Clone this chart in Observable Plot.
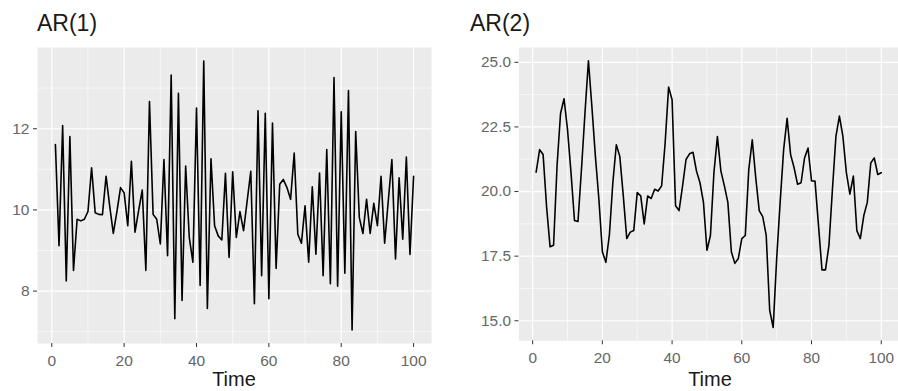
<!DOCTYPE html>
<html>
<head>
<meta charset="utf-8">
<script src="https://cdn.jsdelivr.net/npm/d3@7"></script>
<script src="https://cdn.jsdelivr.net/npm/@observablehq/plot@0.6"></script>
<style>
  html, body { margin: 0; padding: 0; background: white; }
  body { width: 898px; height: 391px; overflow: hidden; position: relative; font-family: "Liberation Sans", Arial, sans-serif; }
  .abs { position: absolute; }
  .title { font-size: 23px; line-height: 1; color: #1a1a1a; white-space: nowrap; }
  .xlab { font-size: 20px; line-height: 1; color: #1a1a1a; white-space: nowrap; transform: translateX(-50%); }
</style>
</head>
<body>
<div id="t1" class="abs title" style="left:37px; top:12px;">AR(1)</div>
<div id="t2" class="abs title" style="left:470px; top:12px;">AR(2)</div>
<div id="p1" class="abs" style="left:0px; top:40px;"></div>
<div id="p2" class="abs" style="left:450px; top:40px;"></div>
<div class="abs xlab" style="left:234px; top:369px;">Time</div>
<div class="abs xlab" style="left:710px; top:369px;">Time</div>
<script>
const time = d3.range(1, 101);

const ar1 = [
  11.61, 9.12, 12.08, 8.25, 11.81, 8.51, 9.77, 9.73, 9.77, 9.96,
  11.04, 9.93, 9.89, 9.88, 10.83, 10.1, 9.42, 9.96, 10.55, 10.42,
  9.61, 11.2, 9.45, 9.98, 10.49, 8.51, 12.67, 9.89, 9.77, 9.16,
  11.24, 8.87, 13.32, 7.32, 12.87, 7.77, 11.08, 9.32, 8.71, 12.51,
  8.14, 13.67, 7.57, 11.26, 9.61, 9.36, 9.26, 10.9, 8.83, 10.94,
  9.32, 9.96, 9.49, 10.22, 10.95, 7.69, 12.44, 8.38, 12.38, 7.81,
  12.14, 8.56, 10.63, 10.75, 10.55, 10.26, 11.4, 9.4, 9.18, 10.1,
  8.71, 10.57, 8.91, 10.91, 8.38, 11.49, 8.18, 13.26, 8.12, 12.42,
  8.44, 12.94, 7.04, 11.93, 9.81, 9.42, 10.26, 9.42, 10.16, 9.61,
  10.83, 9.18, 10.22, 11.24, 8.79, 10.79, 9.28, 11.3, 8.9, 10.83
];

const ar2 = [
  20.75, 21.62, 21.43, 19.4, 17.86, 17.92, 21.0, 23.02, 23.59, 22.4,
  20.73, 18.88, 18.84, 20.85, 23.02, 25.06, 23.27, 21.36, 19.7, 17.67,
  17.26, 18.3, 20.34, 21.81, 21.36, 19.83, 18.18, 18.43, 18.49, 19.96,
  19.83, 18.75, 19.83, 19.73, 20.09, 20.02, 20.22, 21.87, 24.04, 23.55,
  19.45, 19.26, 20.21, 21.24, 21.46, 21.52, 20.79, 20.34, 19.58, 17.73,
  18.3, 20.73, 22.13, 20.79, 20.22, 19.58, 17.67, 17.22, 17.41, 18.18,
  18.3, 20.85, 22.0, 20.53, 19.26, 19.03, 18.3, 15.4, 14.74, 17.4,
  19.58, 21.62, 22.83, 21.43, 20.92, 20.28, 20.34, 21.3, 21.68, 20.41,
  20.41, 18.69, 16.97, 16.97, 17.92, 20.09, 22.13, 22.92, 22.13, 20.73,
  19.9, 20.6, 18.49, 18.18, 19.07, 19.58, 21.11, 21.3, 20.66, 20.73
];

const xTicks = [0, 20, 40, 60, 80, 100];
const xMinor = [10, 30, 50, 70, 90];
const ar1Ticks = [8, 10, 12];
const ar1Minor = [7, 9, 11, 13];
const ar2Ticks = [15, 17.5, 20, 22.5, 25];
const ar2Minor = [16.25, 18.75, 21.25, 23.75];

function panel(values, yTicks, yMinor, yFormat, width, marginLeft, marginRight) {
  const data = values.map((v, i) => ({t: time[i], v}));
  const [lo, hi] = d3.extent(values);
  const pad = (hi - lo) * 0.05;
  const [tlo, thi] = d3.extent(time);
  const tpad = (thi - tlo) * 0.05;
  const grid = {stroke: "white", strokeOpacity: 1};
  return Plot.plot({
    width, height: 351,
    marginLeft, marginRight, marginTop: 7, marginBottom: 48,
    style: {fontFamily: "'Liberation Sans', Arial, sans-serif", fontSize: "15.5px", background: "transparent", overflow: "visible"},
    x: {domain: [tlo - tpad, thi + tpad]},
    y: {domain: [lo - pad, hi + pad]},
    marks: [
      Plot.frame({fill: "#ebebeb"}),
      Plot.gridX(xMinor, {...grid, strokeWidth: 0.6}),
      Plot.gridY(yMinor, {...grid, strokeWidth: 0.6}),
      Plot.gridX(xTicks, {...grid, strokeWidth: 1.2}),
      Plot.gridY(yTicks, {...grid, strokeWidth: 1.2}),
      Plot.axisX(xTicks, {tickSize: 4, tickPadding: 7, label: null, stroke: "#333", fill: "#666"}),
      Plot.axisY(yTicks, {tickSize: 4, tickPadding: 4, label: null, tickFormat: yFormat, stroke: "#333", fill: "#666"}),
      Plot.line(data, {x: "t", y: "v", stroke: "black", strokeWidth: 1.6})
    ]
  });
}

document.getElementById("p1").append(panel(ar1, ar1Ticks, ar1Minor, d3.format("d"), 450, 37, 19));
document.getElementById("p2").append(panel(ar2, ar2Ticks, ar2Minor, d3.format(".1f"), 452, 69, 0));
</script>
</body>
</html>
